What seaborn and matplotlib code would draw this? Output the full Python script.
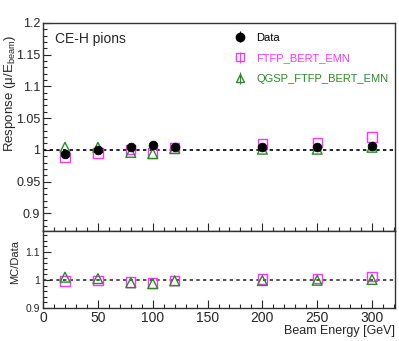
import numpy as np
import pandas as pd
import matplotlib
matplotlib.use("Agg")
import matplotlib.pyplot as plt
from matplotlib.ticker import MultipleLocator, FuncFormatter
import seaborn as sns

# Data
energy = [20, 50, 80, 100, 120, 200, 250, 300]
resp_data = [0.993, 0.999, 1.005, 1.007, 1.005, 1.004, 1.004, 1.006]
resp_ftfp = [0.988, 0.995, 1.000, 0.995, 1.003, 1.009, 1.012, 1.020]
resp_qgsp = [1.004, 1.004, 0.996, 0.994, 1.002, 1.001, 1.001, 1.004]
ratio_ftfp = [0.996, 0.998, 0.993, 0.989, 0.998, 1.003, 1.006, 1.012]
ratio_qgsp = [1.010, 1.005, 0.990, 0.987, 0.997, 0.998, 0.999, 1.002]
err_data = [0.002] * 8

c_data = "black"
c_ftfp = "#ff33ff"
c_qgsp = "#2a8a2a"

sns.set_style("ticks")
plt.rcParams["font.family"] = ["Liberation Sans", "DejaVu Sans"]
plt.rcParams["mathtext.fontset"] = "custom"
plt.rcParams["mathtext.rm"] = "Liberation Sans"
plt.rcParams["mathtext.it"] = "Liberation Sans:italic"

fig = plt.figure(figsize=(3.99, 3.41), dpi=100)
ax1 = fig.add_axes([0.108, 0.3226, 0.882, 0.61])
ax2 = fig.add_axes([0.108, 0.0968, 0.882, 0.2258], sharex=ax1)

df = pd.DataFrame({"E": energy, "data": resp_data, "ftfp": resp_ftfp, "qgsp": resp_qgsp,
                   "r_ftfp": ratio_ftfp, "r_qgsp": ratio_qgsp})

# top panel
sns.scatterplot(data=df, x="E", y="ftfp", marker="s", s=45, facecolor="none",
                edgecolor=c_ftfp, linewidth=1.0, ax=ax1, legend=False, zorder=3)
sns.scatterplot(data=df, x="E", y="qgsp", marker="^", s=50, facecolor="none",
                edgecolor=c_qgsp, linewidth=1.0, ax=ax1, legend=False, zorder=4)
sns.scatterplot(data=df, x="E", y="data", marker="o", s=40, color=c_data,
                edgecolor=c_data, ax=ax1, legend=False, zorder=5)
ax1.errorbar(energy, resp_data, yerr=err_data, fmt="none", ecolor=c_data, lw=0.8, zorder=5)
ax1.axhline(1.0, color="black", ls=(0, (2, 2)), lw=1.2, zorder=2)

# legend handles
h1 = ax1.errorbar([], [], yerr=[], fmt="o", color=c_data, ms=6, capsize=3, lw=0.8)
h2 = ax1.errorbar([], [], yerr=[], fmt="s", color=c_ftfp, mfc="none", ms=6, capsize=3, lw=0.8)
h3 = ax1.errorbar([], [], yerr=[], fmt="^", color=c_qgsp, mfc="none", ms=6, capsize=3, lw=0.8)
leg = ax1.legend([h1, h2, h3], ["Data", "FTFP_BERT_EMN", "QGSP_FTFP_BERT_EMN"],
                 loc="upper right", bbox_to_anchor=(1.0, 0.985), frameon=False,
                 fontsize=8, handlelength=1.0, handletextpad=1.0, labelspacing=0.95,
                 borderaxespad=0.2)
for t, c in zip(leg.get_texts(), [c_data, c_ftfp, c_qgsp]):
    t.set_color(c)

ax1.text(0.035, 0.955, "CE-H pions", transform=ax1.transAxes, fontsize=10, va="top")
ax1.set_ylim(0.872, 1.2)
ax1.set_xlim(0, 321)
ax1.yaxis.set_major_locator(MultipleLocator(0.05))
ax1.yaxis.set_minor_locator(MultipleLocator(0.01))
ax1.yaxis.set_major_formatter(FuncFormatter(lambda v, p: f"{v:g}"))
ax1.set_ylabel("Response (μ/E$_{\\mathrm{beam}}$)", fontsize=9.5)
ax1.yaxis.set_label_coords(-0.07, 0.66)
ax1.set_xlabel("")
ax1.tick_params(labelbottom=False)

# ratio panel
sns.scatterplot(data=df, x="E", y="r_ftfp", marker="s", s=45, facecolor="none",
                edgecolor=c_ftfp, linewidth=1.0, ax=ax2, legend=False, zorder=3)
sns.scatterplot(data=df, x="E", y="r_qgsp", marker="^", s=50, facecolor="none",
                edgecolor=c_qgsp, linewidth=1.0, ax=ax2, legend=False, zorder=4)
ax2.axhline(1.0, color="#333333", ls=(0, (2, 2)), lw=1.2, zorder=2)
ax2.set_ylim(0.9, 1.175)
ax2.yaxis.set_major_locator(MultipleLocator(0.1))
ax2.yaxis.set_minor_locator(MultipleLocator(0.02))
ax2.yaxis.set_major_formatter(FuncFormatter(lambda v, p: f"{v:g}"))
ax2.set_ylabel("MC/Data", fontsize=8)
ax2.yaxis.set_label_coords(-0.065, 0.6)
ax2.xaxis.set_major_locator(MultipleLocator(50))
ax2.xaxis.set_minor_locator(MultipleLocator(10))
ax2.set_xlabel("Beam Energy [GeV]", fontsize=9, loc="right", labelpad=0)

for ax in (ax1, ax2):
    for s in ax.spines.values():
        s.set_color("#333333")
        s.set_linewidth(1.0)
    ax.tick_params(which="both", direction="in", left=True, bottom=True, top=False, right=False)
    ax.tick_params(which="major", length=6, width=0.8)
    ax.tick_params(which="minor", length=3, width=0.8)
ax1.tick_params(axis="y", labelsize=9, pad=2)
ax2.tick_params(axis="y", labelsize=7.5, pad=2)
ax2.tick_params(axis="x", labelsize=10, pad=2)

fig.savefig("out.png", dpi=100)
